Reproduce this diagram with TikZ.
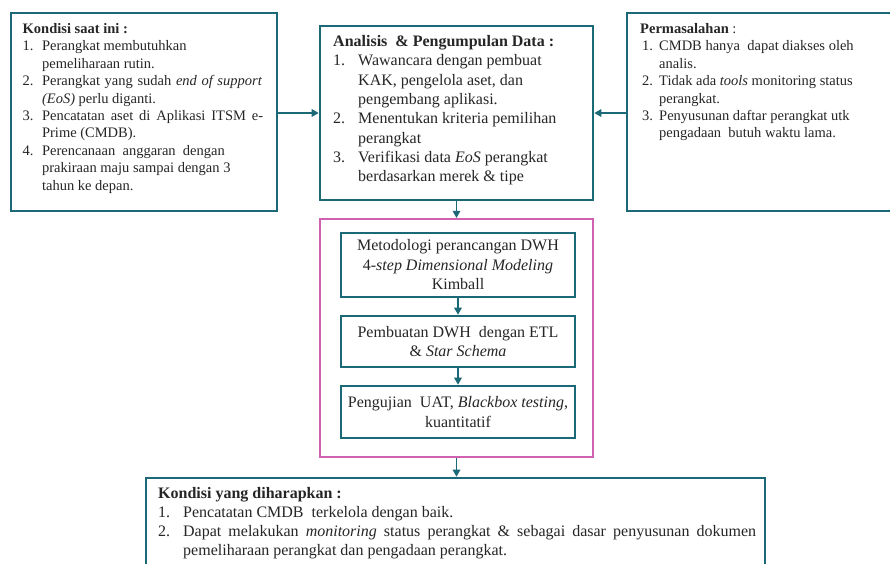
\documentclass[tikz,border=0pt]{standalone}
\usepackage{fontspec}
\setmainfont{Liberation Serif}
\usetikzlibrary{arrows.meta}
\definecolor{tealb}{RGB}{27,105,119}
\definecolor{pinkb}{RGB}{208,96,176}
\definecolor{txt}{RGB}{38,38,38}
\newcommand{\itm}[2]{\makebox[#1][l]{#2}}
\tikzset{
  tbox/.style={draw=tealb, line width=2.6pt, fill=white, inner sep=0pt},
  pbox/.style={draw=pinkb, line width=2.2pt, inner sep=0pt},
  sbox/.style={draw=tealb, line width=2.6pt, fill=white, inner sep=0pt, align=center, text=txt, font=\fontsize{16}{19.5}\selectfont},
  conn/.style={draw=tealb, line width=1.5pt, -{Triangle[length=7pt,width=7.5pt]}},
  btxt/.style={anchor=north west, inner sep=0pt, align=left, text=txt},
}
\begin{document}
\begin{tikzpicture}[x=1pt,y=-1pt]
\useasboundingbox (0,0) rectangle (890,563);
\clip (0,0) rectangle (890,563);
\fill[white] (0,0) rectangle (890,563);
% boxes
\node[tbox, minimum width=266pt, minimum height=198pt] (kondisi) at (144,112) {};
\node[tbox, minimum width=273pt, minimum height=174pt] (analisis) at (456.5,113) {};
\node[tbox, minimum width=273pt, minimum height=198pt] (masalah) at (763.5,112) {};
\node[pbox, minimum width=273pt, minimum height=238pt] (metode) at (456.5,338) {};
\node[sbox, minimum width=234pt, minimum height=64pt] (m1) at (458,265)
  {Metodologi perancangan DWH\\4-\textit{step Dimensional Modeling}\\Kimball};
\node[sbox, minimum width=234pt, minimum height=51pt] (m2) at (458,341.5)
  {Pembuatan DWH\ \ dengan ETL\\\& \textit{Star Schema}};
\node[sbox, minimum width=234pt, minimum height=52pt] (m3) at (458,412)
  {Pengujian\ \ UAT, \textit{Blackbox testing},\\kuantitatif};
\node[tbox, minimum width=619pt, minimum height=122pt] (harap) at (455.5,539) {};
% texts
\node[btxt, font=\fontsize{14.5}{17.4}\selectfont] (tkondisi) at (22.5,21.1) {%
\strut\textbf{Kondisi saat ini :}\\
\itm{19.4pt}{1.}Perangkat membutuhkan\\
\itm{19.4pt}{}pemeliharaan rutin.\\
\itm{19.4pt}{2.}\makebox[220pt][s]{Perangkat yang sudah \textit{end of support}}\\
\itm{19.4pt}{}\textit{(EoS)} perlu diganti.\\
\itm{19.4pt}{3.}\makebox[221pt][s]{Pencatatan aset di Aplikasi ITSM e-}\\
\itm{19.4pt}{}Prime (CMDB).\\
\itm{19.4pt}{4.}Perencanaan\ \ anggaran\ \ dengan\\
\itm{19.4pt}{}prakiraan maju sampai dengan 3\\
\itm{19.4pt}{}tahun ke depan.};
\node[btxt, font=\fontsize{16}{19.3}\selectfont] (tanalisis) at (333,32.8) {%
\strut\textbf{Analisis\ \ \& Pengumpulan Data :}\\
\itm{25pt}{1.}Wawancara dengan pembuat\\
\itm{25pt}{}KAK, pengelola aset, dan\\
\itm{25pt}{}pengembang aplikasi.\\
\itm{25pt}{2.}Menentukan kriteria pemilihan\\
\itm{25pt}{}perangkat\\
\itm{25pt}{3.}Verifikasi data \textit{EoS} perangkat\\
\itm{25pt}{}berdasarkan merek \& tipe};
\node[btxt, font=\fontsize{14.5}{17.4}\selectfont] (tmasalah) at (640,21.1) {%
\strut\textbf{Permasalahan} :\\
\itm{19pt}{\hspace*{2pt}1.}CMDB hanya\ \ dapat diakses oleh\\
\itm{19pt}{}analis.\\
\itm{19pt}{\hspace*{2pt}2.}Tidak ada \textit{tools} monitoring status\\
\itm{19pt}{}perangkat.\\
\itm{19pt}{\hspace*{2pt}3.}Penyusunan daftar perangkat utk\\
\itm{19pt}{}pengadaan\ \ butuh waktu lama.};
\node[btxt, font=\fontsize{16}{19}\selectfont] (tharap) at (158,484.7) {%
\strut\textbf{Kondisi yang diharapkan :}\\
\itm{25pt}{1.}Pencatatan CMDB\ \ terkelola dengan baik.\\
\itm{25pt}{2.}\makebox[573pt][s]{Dapat melakukan \textit{monitoring} status perangkat \& sebagai dasar penyusunan dokumen}\\
\itm{25pt}{}pemeliharaan perangkat dan pengadaan perangkat.};
% connectors
\draw[conn] (kondisi.east |- analisis.west) -- (analisis.west);
\draw[conn] (masalah.west |- analisis.east) -- (analisis.east);
\draw[conn] (analisis.south) -- (metode.north);
\draw[conn] (m1.south) -- (m2.north);
\draw[conn] (m2.south) -- (m3.north);
\draw[conn] (metode.south) -- (metode.south |- harap.north);
\end{tikzpicture}
\end{document}
